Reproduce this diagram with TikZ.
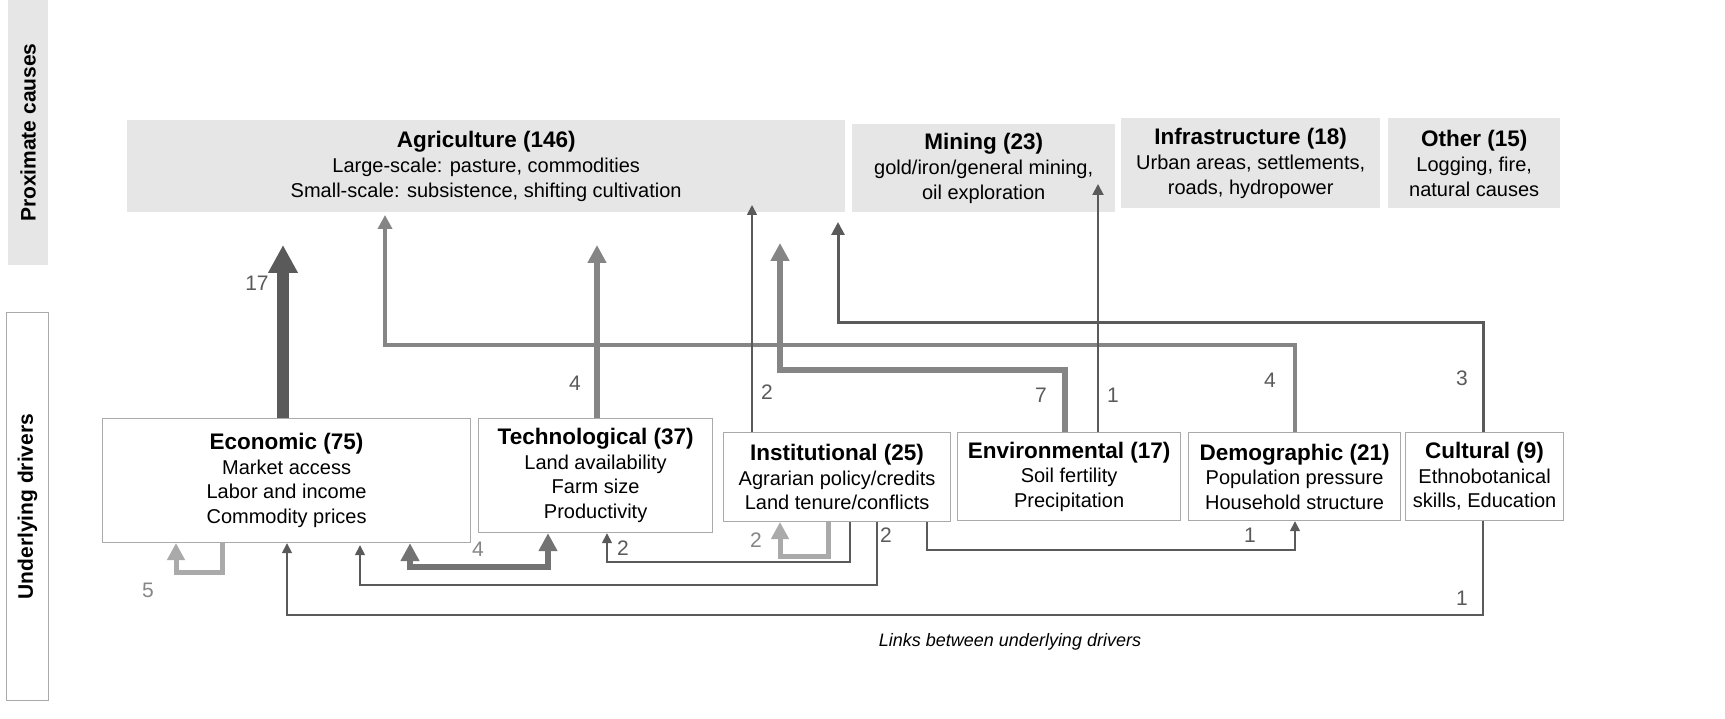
\documentclass[tikz,border=0pt]{standalone}
\usepackage{fontspec}
\setmainfont{Liberation Sans}
\usetikzlibrary{arrows.meta}
\definecolor{dk}{HTML}{5A5A5A}
\definecolor{md}{HTML}{858585}
\definecolor{lt}{HTML}{AAAAAA}
\definecolor{bx}{HTML}{E6E6E6}
\newcommand{\ttl}[1]{{\fontsize{22.5}{26}\selectfont\bfseries #1}}
\begin{document}
\begin{tikzpicture}[x=1pt,y=-1pt,
  pc/.style={fill=bx,draw=none,anchor=north west,align=center,inner sep=0pt,font=\fontsize{20}{25}\selectfont},
  ud/.style={fill=white,draw=lt,line width=1.2pt,anchor=north west,align=center,inner sep=0pt,font=\fontsize{20}{24.5}\selectfont},
  num/.style={font=\fontsize{21}{24}\selectfont,text=dk},
  tip/.style={-{Triangle[length=#1,width=#1]}},
]
\useasboundingbox (0,0) rectangle (1725,719);
% side bars
\node[fill=bx,anchor=north west,minimum width=40pt,minimum height=265pt,inner sep=0pt] (pcbar) at (8,0) {};
\node[rotate=90,font=\fontsize{21}{24}\selectfont\bfseries] (pclab) at (pcbar.center) {Proximate causes};
\node[draw=lt,line width=1.2pt,anchor=north west,minimum width=42pt,minimum height=388pt,inner sep=0pt] (udbar) at (6,312) {};
\node[rotate=90,font=\fontsize{21}{24}\selectfont\bfseries] (udlab) at (udbar.center) {Underlying drivers};
% proximate boxes
\node[pc,minimum width=718pt,minimum height=92pt] (agr) at (127,120) {\ttl{Agriculture (146)}\\Large-scale: pasture, commodities\\Small-scale: subsistence, shifting cultivation};
\node[pc,minimum width=263pt,minimum height=88pt] (min) at (852,124) {\ttl{Mining (23)}\\gold/iron/general mining,\\oil exploration};
\node[pc,minimum width=259pt,minimum height=90pt] (inf) at (1121,118) {\ttl{Infrastructure (18)}\\Urban areas, settlements,\\roads, hydropower};
\node[pc,minimum width=172pt,minimum height=90pt] (oth) at (1388,118) {\ttl{Other (15)}\\Logging, fire,\\natural causes};
% underlying boxes
\node[ud,minimum width=368pt,minimum height=124pt] (eco) at (102,418) {\ttl{Economic (75)}\\Market access\\Labor and income\\Commodity prices};
\node[ud,minimum width=234pt,minimum height=114pt] (tec) at (478,418) {\ttl{Technological (37)}\\Land availability\\Farm size\\Productivity};
\node[ud,minimum width=227pt,minimum height=89pt] (ins) at (723,432) {\ttl{Institutional (25)}\\Agrarian policy/credits\\Land tenure/conflicts};
\node[ud,minimum width=223pt,minimum height=88pt] (env) at (957,432) {\ttl{Environmental (17)}\\Soil fertility\\Precipitation};
\node[ud,minimum width=212pt,minimum height=88pt] (dem) at (1188,432) {\ttl{Demographic (21)}\\Population pressure\\Household structure};
\node[ud,minimum width=158pt,minimum height=88pt] (cul) at (1405,432) {\ttl{Cultural (9)}\\Ethnobotanical\\skills, Education};
% arrows to proximate causes
\draw[dk,line width=3pt,tip=13pt] (cul.north -| 1483,0) -- (1483,323) -- (838,323) -- (838,222);
\draw[md,line width=4pt,tip=14pt] (dem.north -| 1295,0) -- (1295,345) -- (385,345) -- (385,215);
\draw[md,line width=6pt,tip=18pt] (env.north -| 1065,0) -- (1065,370) -- (780,370) -- (780,243);
\draw[dk,line width=2pt,tip=11pt] (env.north -| 1098,0) -- (1098,184);
\draw[dk,line width=1.6pt,tip=10pt] (ins.north -| 752,0) -- (752,205);
\draw[md,line width=6pt,tip=18pt] (tec.north -| 597,0) -- (597,245);
\draw[dk,line width=12pt,tip=28pt] (eco.north -| 283,0) -- (283,245);
\node[num] (n17) at (257,283) {17};
\node[num] (n4a) at (575,383) {4};
\node[num] (n2a) at (767,392) {2};
\node[num] (n7) at (1041,395) {7};
\node[num] (n1a) at (1113,395) {1};
\node[num] (n4b) at (1270,380) {4};
\node[num] (n3) at (1462,378) {3};
% links between underlying drivers
\draw[lt,line width=5pt,tip=17pt] (eco.south -| 222,0) -- (222,572) -- (176,572) -- (176,543);
\draw[dk!85,line width=6pt,{Triangle[length=18pt,width=18pt]}-{Triangle[length=18pt,width=18pt]}] (eco.south -| 410,0) -- (410,567) -- (548,567) -- (tec.south -| 548,0);
\draw[dk,line width=1.6pt,tip=10pt] (ins.south -| 850,0) -- (850,562) -- (607,562) -- (tec.south -| 607,0);
\draw[lt,line width=5pt,tip=17pt] (ins.south -| 828,0) -- (828,556) -- (780,556) -- (780,522);
\draw[dk,line width=1.6pt,tip=10pt] (ins.south -| 877,0) -- (877,585) -- (360,585) -- ([yshift=-2pt]eco.south -| 360,0);
\draw[dk,line width=1.6pt,tip=10pt] (ins.south -| 927,0) -- (927,550) -- (1295,550) -- (dem.south -| 1295,0);
\draw[dk,line width=1.6pt,tip=10pt] (cul.south -| 1483,0) -- (1483,615) -- (287,615) -- (eco.south -| 287,0);
\node[num,text=md] (n5) at (148,590) {5};
\node[num,text=md] (n4c) at (478,549) {4};
\node[num] (n2b) at (623,548) {2};
\node[num,text=md] (n2c) at (756,540) {2};
\node[num] (n2d) at (886,535) {2};
\node[num] (n1b) at (1250,535) {1};
\node[num] (n1c) at (1462,598) {1};
\node[font=\fontsize{18}{22}\selectfont\itshape] (cap) at (1010,642) {Links between underlying drivers};
\end{tikzpicture}
\end{document}
